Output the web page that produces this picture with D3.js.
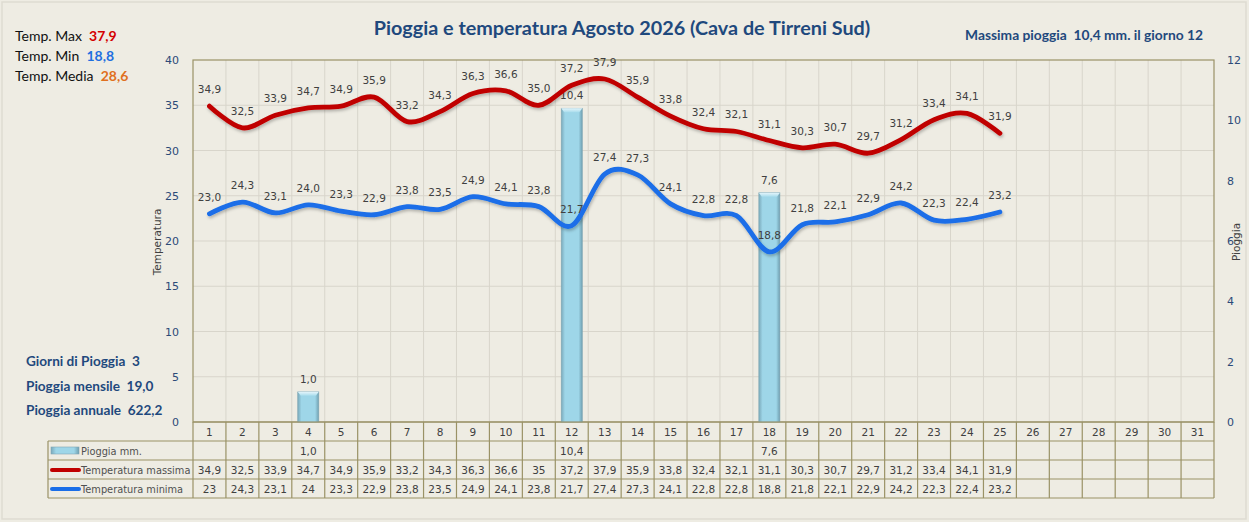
<!DOCTYPE html>
<html>
<head>
<meta charset="utf-8">
<script src="https://cdn.jsdelivr.net/npm/d3@7"></script>
<style>
  body { margin: 0; background: #eeece3; }
  svg text { font-family: "DejaVu Sans", sans-serif; white-space: pre; }
</style>
</head>
<body>
<svg id="chart" width="1249" height="522"></svg>
<script>
// ---- data ----
var days = d3.range(1, 32);
var tmax = [34.9, 32.5, 33.9, 34.7, 34.9, 35.9, 33.2, 34.3, 36.3, 36.6, 35.0, 37.2, 37.9,
            35.9, 33.8, 32.4, 32.1, 31.1, 30.3, 30.7, 29.7, 31.2, 33.4, 34.1, 31.9];
var tmin = [23.0, 24.3, 23.1, 24.0, 23.3, 22.9, 23.8, 23.5, 24.9, 24.1, 23.8, 21.7, 27.4,
            27.3, 24.1, 22.8, 22.8, 18.8, 21.8, 22.1, 22.9, 24.2, 22.3, 22.4, 23.2];
var rainDays = [4, 12, 18];
var rainMm = [1.0, 10.4, 7.6];
var tempTicks = [0, 5, 10, 15, 20, 25, 30, 35, 40];
var rainTicks = [0, 2, 4, 6, 8, 10, 12];

var title = 'Pioggia e temperatura Agosto 2026 (Cava de Tirreni Sud)';
var maxRainNote = 'Massima pioggia  10,4 mm. il giorno 12';
var summaryTemp = [['Temp. Max', '37,9', '#d40000'], ['Temp. Min', '18,8', '#1f6fe0'], ['Temp. Media', '28,6', '#e07020']];
var summaryRain = [['Giorni di Pioggia', '3'], ['Pioggia mensile', '19,0'], ['Pioggia annuale', '622,2']];

var fmt1 = function (v) { return v.toFixed(1).replace('.', ','); };
var fmtRaw = function (v) { return String(v).replace('.', ','); };

// ---- layout ----
var pLeft = 193, pRight = 1214, pTop = 60, pBottom = 422;
var rowH = 19, tableLeft = 48;
var olive = '#9a9266', gridCol = '#d8d5cb', tickCol = '#2c4a78', txtCol = '#404040';

var svg = d3.select('#chart');

var x = d3.scaleBand().domain(days).range([pLeft, pRight]).padding(0);
var yT = d3.scaleLinear().domain([0, 40]).range([pBottom, pTop]);
var yR = d3.scaleLinear().domain([0, 12]).range([pBottom, pTop]);
var cx = function (d) { return x(d) + x.bandwidth() / 2; };

// outer frame
svg.append('rect').attr('x', 2).attr('y', 2).attr('width', 1244).attr('height', 517)
  .attr('fill', '#eeece3').attr('stroke', '#dedbd2').attr('stroke-width', 1.5);

var defs = svg.append('defs');
var grad = defs.append('linearGradient').attr('id', 'barGrad').attr('x1', 0).attr('x2', 1).attr('y1', 0).attr('y2', 0);
grad.append('stop').attr('offset', '0%').attr('stop-color', '#7aa9ba');
grad.append('stop').attr('offset', '18%').attr('stop-color', '#9ed6e8');
grad.append('stop').attr('offset', '82%').attr('stop-color', '#9ed6e8');
grad.append('stop').attr('offset', '100%').attr('stop-color', '#6f9fb0');
var capGrad = defs.append('linearGradient').attr('id', 'capGrad').attr('x1', 0).attr('x2', 0).attr('y1', 0).attr('y2', 1);
capGrad.append('stop').attr('offset', '0%').attr('stop-color', '#e4f5fb');
capGrad.append('stop').attr('offset', '100%').attr('stop-color', '#a8dcec');
var shadow = defs.append('filter').attr('id', 'shadow').attr('x', '-5%').attr('y', '-20%').attr('width', '110%').attr('height', '140%');
shadow.append('feDropShadow').attr('dx', 1).attr('dy', 2).attr('stdDeviation', 1.5).attr('flood-color', '#000').attr('flood-opacity', 0.25);

// grid
svg.append('g').selectAll('line').data(tempTicks.slice(1, -1)).enter().append('line')
  .attr('x1', pLeft).attr('x2', pRight).attr('y1', function (d) { return yT(d); }).attr('y2', function (d) { return yT(d); })
  .attr('stroke', gridCol);
svg.append('g').selectAll('line').data(days.slice(1)).enter().append('line')
  .attr('x1', function (d) { return x(d); }).attr('x2', function (d) { return x(d); })
  .attr('y1', pTop).attr('y2', pBottom)
  .attr('stroke', gridCol);

// plot frame
svg.append('rect').attr('x', pLeft).attr('y', pTop).attr('width', pRight - pLeft).attr('height', pBottom - pTop)
  .attr('fill', 'none').attr('stroke', olive).attr('stroke-width', 1.2);

// axes
var axL = svg.append('g').attr('transform', 'translate(' + (pLeft - 11) + ',0)')
  .call(d3.axisLeft(yT).tickValues(tempTicks).tickSize(0));
var axR = svg.append('g').attr('transform', 'translate(' + (pRight + 10) + ',0)')
  .call(d3.axisRight(yR).tickValues(rainTicks).tickSize(0));
[axL, axR].forEach(function (a) {
  a.select('.domain').remove();
  a.selectAll('text').attr('fill', tickCol).style('font-family', 'DejaVu Sans').style('font-size', '11px');
});

svg.append('text').attr('transform', 'translate(161,242) rotate(-90)').attr('text-anchor', 'middle')
  .attr('fill', txtCol).style('font-size', '10.5px').text('Temperatura');
svg.append('text').attr('transform', 'translate(1240,242) rotate(-90)').attr('text-anchor', 'middle')
  .attr('fill', txtCol).style('font-size', '10.5px').text('Pioggia');

// rain bars
var bw = x.bandwidth() * 0.64;
var rain = rainDays.map(function (d, i) { return { day: d, mm: rainMm[i] }; });
var bars = svg.append('g').selectAll('g').data(rain).enter().append('g');
bars.append('rect')
  .attr('x', function (d) { return x(d.day) + (x.bandwidth() - bw) / 2; })
  .attr('y', function (d) { return yR(d.mm); })
  .attr('width', bw)
  .attr('height', function (d) { return pBottom - yR(d.mm); })
  .attr('fill', 'url(#barGrad)').attr('stroke', '#7fa6b4').attr('stroke-width', 0.6);
bars.append('path')
  .attr('d', function (d) {
    var x0 = x(d.day) + (x.bandwidth() - bw) / 2, y0 = yR(d.mm);
    return 'M' + x0 + ',' + y0 + 'h' + bw + 'l-3,4h' + (-(bw - 6)) + 'z';
  })
  .attr('fill', 'url(#capGrad)');
bars.append('text')
  .attr('x', function (d) { return cx(d.day); })
  .attr('y', function (d) { return yR(d.mm) - 9; })
  .attr('text-anchor', 'middle').attr('fill', txtCol).style('font-size', '10.5px')
  .text(function (d) { return fmt1(d.mm); });

// temperature lines
var line = d3.line()
  .x(function (d, i) { return cx(days[i]); })
  .y(function (d) { return yT(d); })
  .curve(d3.curveCardinal.tension(0));

[[tmax, '#c00000'], [tmin, '#1a6ee8']].forEach(function (s) {
  svg.append('path').datum(s[0]).attr('d', line)
    .attr('fill', 'none').attr('stroke', s[1]).attr('stroke-width', 4.8)
    .attr('stroke-linecap', 'round').attr('filter', 'url(#shadow)');
});

[tmax, tmin].forEach(function (series) {
  svg.append('g').selectAll('text').data(series).enter().append('text')
    .attr('x', function (d, i) { return cx(days[i]); })
    .attr('y', function (d) { return yT(d) - 13; })
    .attr('text-anchor', 'middle').attr('fill', txtCol).style('font-size', '10.5px')
    .text(function (d) { return fmt1(d); });
});

// data table
var rowsY = [pBottom, pBottom + rowH, pBottom + 2 * rowH, pBottom + 3 * rowH, pBottom + 4 * rowH];
var tbl = svg.append('g');
var colEdges = days.map(function (d) { return x(d); }).concat([pRight]);
tbl.selectAll('line.tv').data(colEdges).enter().append('line')
  .attr('x1', function (d) { return d; }).attr('x2', function (d) { return d; })
  .attr('y1', pBottom).attr('y2', rowsY[4]).attr('stroke', olive).attr('stroke-width', 1.2);
tbl.selectAll('line.th').data(rowsY).enter().append('line')
  .attr('x1', function (d, i) { return i === 0 ? pLeft : tableLeft; }).attr('x2', pRight)
  .attr('y1', function (d) { return d; }).attr('y2', function (d) { return d; })
  .attr('stroke', olive).attr('stroke-width', 1.2);
tbl.append('line').attr('x1', tableLeft).attr('x2', tableLeft).attr('y1', rowsY[1]).attr('y2', rowsY[4])
  .attr('stroke', olive).attr('stroke-width', 1.2);

tbl.selectAll('text.day').data(days).enter().append('text')
  .attr('x', cx).attr('y', rowsY[0] + 14).attr('text-anchor', 'middle')
  .attr('fill', txtCol).style('font-size', '10.5px').text(function (d) { return d; });
tbl.selectAll('text.rain').data(rain).enter().append('text')
  .attr('x', function (d) { return cx(d.day); }).attr('y', rowsY[1] + 14).attr('text-anchor', 'middle')
  .attr('fill', txtCol).style('font-size', '10.5px').text(function (d) { return fmt1(d.mm); });
[[tmax, 2], [tmin, 3]].forEach(function (s) {
  tbl.append('g').selectAll('text').data(s[0]).enter().append('text')
    .attr('x', function (d, i) { return cx(days[i]); }).attr('y', rowsY[s[1]] + 14).attr('text-anchor', 'middle')
    .attr('fill', txtCol).style('font-size', '10.5px').text(function (d) { return fmtRaw(d); });
});

// table legend
tbl.append('rect').attr('x', 51).attr('y', rowsY[1] + 6).attr('width', 28).attr('height', 7)
  .attr('fill', 'url(#barGrad)').attr('stroke', '#7fa6b4').attr('stroke-width', 0.6);
tbl.append('line').attr('x1', 52).attr('x2', 79).attr('y1', rowsY[2] + 10).attr('y2', rowsY[2] + 10)
  .attr('stroke', '#c00000').attr('stroke-width', 4).attr('stroke-linecap', 'round');
tbl.append('line').attr('x1', 52).attr('x2', 79).attr('y1', rowsY[3] + 10).attr('y2', rowsY[3] + 10)
  .attr('stroke', '#1a6ee8').attr('stroke-width', 4).attr('stroke-linecap', 'round');
['Pioggia mm.', 'Temperatura massima', 'Temperatura minima'].forEach(function (t, i) {
  tbl.append('text').attr('x', 81).attr('y', rowsY[i + 1] + 14)
    .attr('fill', '#505050').style('font-size', '9.8px').text(t);
});

// titles and notes
svg.append('text').attr('x', 622).attr('y', 35).attr('text-anchor', 'middle')
  .attr('fill', '#1f497d').style('font-family', 'Lato').style('font-weight', 'bold').style('font-size', '19.8px')
  .text(title);
svg.append('text').attr('x', 1203).attr('y', 40).attr('text-anchor', 'end')
  .attr('fill', '#1f497d').style('font-family', 'Lato').style('font-weight', 'bold').style('font-size', '13.8px')
  .text(maxRainNote);

summaryTemp.forEach(function (r, i) {
  var t = svg.append('text').attr('x', 15).attr('y', 41 + i * 20)
    .style('font-family', 'Lato').style('font-size', '14px');
  t.append('tspan').attr('fill', '#111').text(r[0] + '  ');
  t.append('tspan').attr('fill', r[2]).style('font-weight', 'bold').text(r[1]);
});
summaryRain.forEach(function (r, i) {
  svg.append('text').attr('x', 26).attr('y', 366 + i * 24.5)
    .attr('fill', '#1f497d').style('font-family', 'Lato').style('font-weight', 'bold').style('font-size', '13.6px')
    .text(r[0] + '  ' + r[1]);
});
</script>
</body>
</html>
